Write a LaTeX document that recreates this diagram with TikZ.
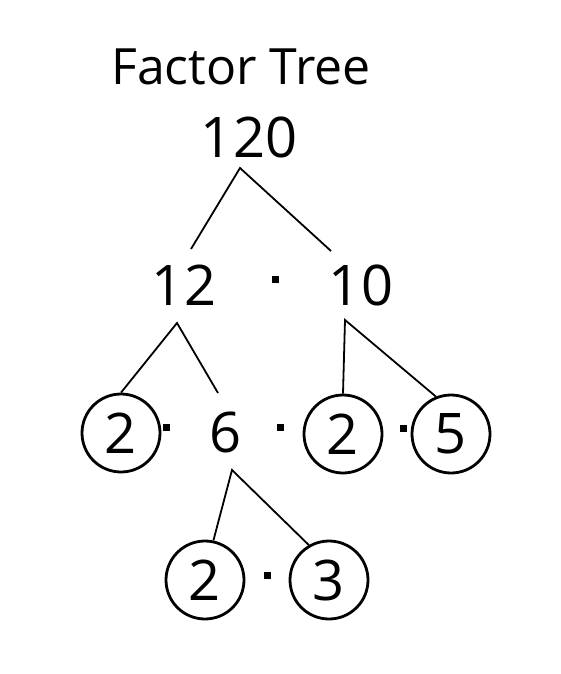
\documentclass[tikz,border=0pt]{standalone}
\usepackage{fontspec}
\setmainfont{Open Sans}
\begin{document}
\begin{tikzpicture}[x=1pt,y=-1pt,
  num/.style={inner sep=0pt,font=\fontsize{56}{60}\selectfont},
  circnum/.style={circle,draw,line width=2.8pt,minimum size=78pt,inner sep=0pt,font=\fontsize{56}{60}\selectfont},
  dotsq/.style={fill=black,minimum size=7pt,inner sep=0pt},
  branch/.style={line width=1.8pt}]
\useasboundingbox (0,0) rectangle (560,674);
\node[inner sep=0pt,font=\fontsize{50}{54}\selectfont] (title) at (241,67) {Factor Tree};
\node[num] (n120) at (249,137) {120};
\node[num] (n12) at (184,285) {12};
\node[dotsq] (d0) at (275,279) {};
\node[num] (n10) at (361,285) {10};
\node[circnum] (c1) at (121,433) {2};
\node[dotsq] (d1) at (166,427) {};
\node[num] (n6) at (226,432) {6};
\node[dotsq] (d2) at (280,427) {};
\node[circnum] (c2) at (343,434) {2};
\node[dotsq] (d3) at (403,428) {};
\node[circnum] (c5) at (451,434) {5};
\node[circnum] (c7) at (205,580) {2};
\node[dotsq] (d4) at (267,575) {};
\node[circnum] (c3) at (329,580) {3};
\coordinate (a120) at (240,168);
\coordinate (l12) at (191,249);
\coordinate (r10) at (331,251);
\coordinate (a12) at (177,323);
\coordinate (r6) at (218,393);
\coordinate (a10) at (345,320);
\coordinate (a6) at (232,470);
\draw[branch] (l12) -- (a120) -- (r10);
\draw[branch] (c1.north) -- (a12) -- (r6);
\draw[branch] (c2.north) -- (a10) -- (c5.112);
\draw[branch] (c7.78) -- (a6) -- (c3.120);
\end{tikzpicture}
\end{document}
